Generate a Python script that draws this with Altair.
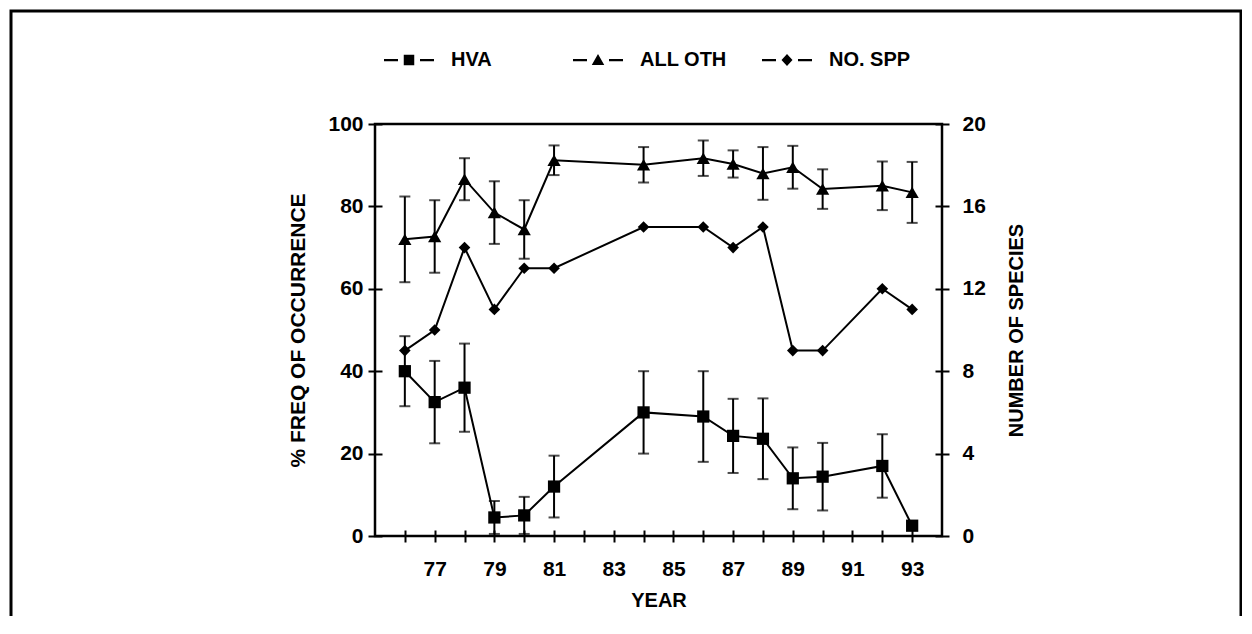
import altair as alt
import pandas as pd

# ---- data ----
years = [76, 77, 78, 79, 80, 81, 84, 86, 87, 88, 89, 90, 92, 93]
hva = [40, 32.5, 36, 4.5, 5, 12, 30, 29, 24.3, 23.6, 14, 14.4, 17, 2.5]
hva_err = [8.5, 10, 10.7, 4, 4.5, 7.5, 10, 11, 9, 9.8, 7.5, 8.2, 7.7, 0]
all_oth = [72, 72.7, 86.6, 78.5, 74.4, 91.2, 90.1, 91.7, 90.3, 88, 89.5, 84.2, 85, 83.4]
all_oth_err = [10.4, 8.8, 5.1, 7.6, 7.1, 3.6, 4.3, 4.3, 3.3, 6.4, 5.2, 4.8, 5.9, 7.4]
no_spp = [9, 10, 14, 11, 13, 13, 15, 15, 14, 15, 9, 9, 12, 11]

series_names = ["HVA", "ALL OTH", "NO. SPP"]
x_ticks = list(range(76, 94))
left_ticks = [0, 20, 40, 60, 80, 100]
right_ticks = [0, 4, 8, 12, 16, 20]

FONT = "Liberation Sans"

rows = []
for name, vals, errs in [("HVA", hva, hva_err), ("ALL OTH", all_oth, all_oth_err)]:
    for yr, v, e in zip(years, vals, errs):
        rows.append({"year": yr, "series": name, "value": v, "err": e,
                     "lo": max(v - e, 0), "hi": v + e})
left_df = pd.DataFrame(rows)
spp_df = pd.DataFrame({"year": years, "spp": no_spp})

x_axis = alt.Axis(values=x_ticks,
                  labelExpr="datum.value % 2 == 1 ? datum.label : ''",
                  tickSize=12, offset=-6, domain=False, grid=False,
                  labelPadding=16, title="YEAR", titlePadding=11)
x_scale = alt.Scale(domain=[75, 94], nice=False, zero=False)


def X():
    return alt.X("year:Q", scale=x_scale, axis=x_axis)


y_axis_left = alt.Axis(values=left_ticks, tickSize=14, offset=-7, domain=False,
                       grid=False, labelPadding=5,
                       title="% FREQ OF OCCURRENCE", titleFontSize=21, titlePadding=19)
y_scale_left = alt.Scale(domain=[0, 100], nice=False)


def YL(field):
    return alt.Y(field, scale=y_scale_left, axis=y_axis_left)


base = alt.Chart(left_df)
line_left = base.mark_line(color="black", strokeWidth=2).encode(
    x=X(), y=YL("value:Q"), detail="series:N")
err_base = base.transform_filter("datum.err > 0")
rules = err_base.mark_rule(color="black", strokeWidth=2).encode(
    x=X(), y=YL("lo:Q"), y2="hi:Q")
caps_lo = err_base.mark_tick(orient="horizontal", size=11, thickness=2, color="black").encode(
    x=X(), y=YL("lo:Q"))
caps_hi = err_base.mark_tick(orient="horizontal", size=11, thickness=2, color="black").encode(
    x=X(), y=YL("hi:Q"))
squares = base.transform_filter("datum.series == 'HVA'").mark_point(
    shape="square", filled=True, size=150, color="black", opacity=1).encode(
    x=X(), y=YL("value:Q"))
triangles = base.transform_filter("datum.series == 'ALL OTH'").mark_point(
    shape="triangle-up", filled=True, size=175, color="black", opacity=1).encode(
    x=X(), y=YL("value:Q"))

# legend glyphs "—■—", "—▲—", "—◆—" as filled paths (dashes are thin rectangles)
DASHES = "M-1,-0.045L-0.44,-0.045L-0.44,0.045L-1,0.045ZM0.44,-0.045L1,-0.045L1,0.045L0.44,0.045Z"
legend_paths = [
    DASHES + "M-0.21,-0.21L0.21,-0.21L0.21,0.21L-0.21,0.21Z",
    DASHES + "M0,-0.24L0.25,0.2L-0.25,0.2Z",
    DASHES + "M0,-0.24L0.22,0L0,0.24L-0.22,0Z",
]
legend_layer = base.transform_filter("false").mark_point(
    filled=True, color="black", size=2500, opacity=1).encode(
    x=X(), y=YL("value:Q"),
    shape=alt.Shape("series:N",
                    scale=alt.Scale(domain=series_names, range=legend_paths),
                    legend=alt.Legend(orient="none", legendX=8, legendY=-90,
                                      direction="horizontal", title=None,
                                      gridAlign="all", columnPadding=32,
                                      symbolSize=2500,
                                      symbolFillColor="black",
                                      symbolOpacity=1,
                                      labelOffset=16, labelFont=FONT, labelFontSize=20,
                                      labelFontWeight="bold", labelColor="black")))

left = alt.layer(line_left, rules, caps_lo, caps_hi, squares, triangles, legend_layer)

y_right = alt.Y("spp:Q",
                scale=alt.Scale(domain=[0, 20], nice=False),
                axis=alt.Axis(orient="right", values=right_ticks, tickSize=14, offset=-7,
                              domain=False, grid=False, labelPadding=13,
                              title="NUMBER OF SPECIES", titleAngle=270,
                              titleBaseline="top", titlePadding=21))
rbase = alt.Chart(spp_df)
line_right = rbase.mark_line(color="black", strokeWidth=2).encode(x=X(), y=y_right)
diamonds = rbase.mark_point(shape="diamond", filled=True, size=135, color="black",
                            opacity=1).encode(x=X(), y=y_right)
right = alt.layer(line_right, diamonds)

frame = alt.Chart(pd.DataFrame({"k": [0]})).mark_rect(
    filled=False, stroke="black", strokeWidth=3, clip=False).encode(
    x=alt.value(-364), x2=alt.value(866), y=alt.value(-113), y2=alt.value(517))

chart = alt.layer(left, right, frame).resolve_scale(y="independent").properties(
    width=567, height=412,
    padding={"left": 367, "top": 116, "right": 300, "bottom": 80},
    autosize=alt.AutoSizeParams(type="none"),
    background="white",
).configure_view(stroke="black", strokeWidth=2.5).configure_axis(
    labelFont=FONT, labelFontSize=21, labelFontWeight="bold", labelColor="black",
    titleFont=FONT, titleFontSize=20, titleFontWeight="bold", titleColor="black",
    tickColor="black", tickWidth=2,
)

chart.save("out.html", embed_options={"renderer": "svg", "actions": False})
